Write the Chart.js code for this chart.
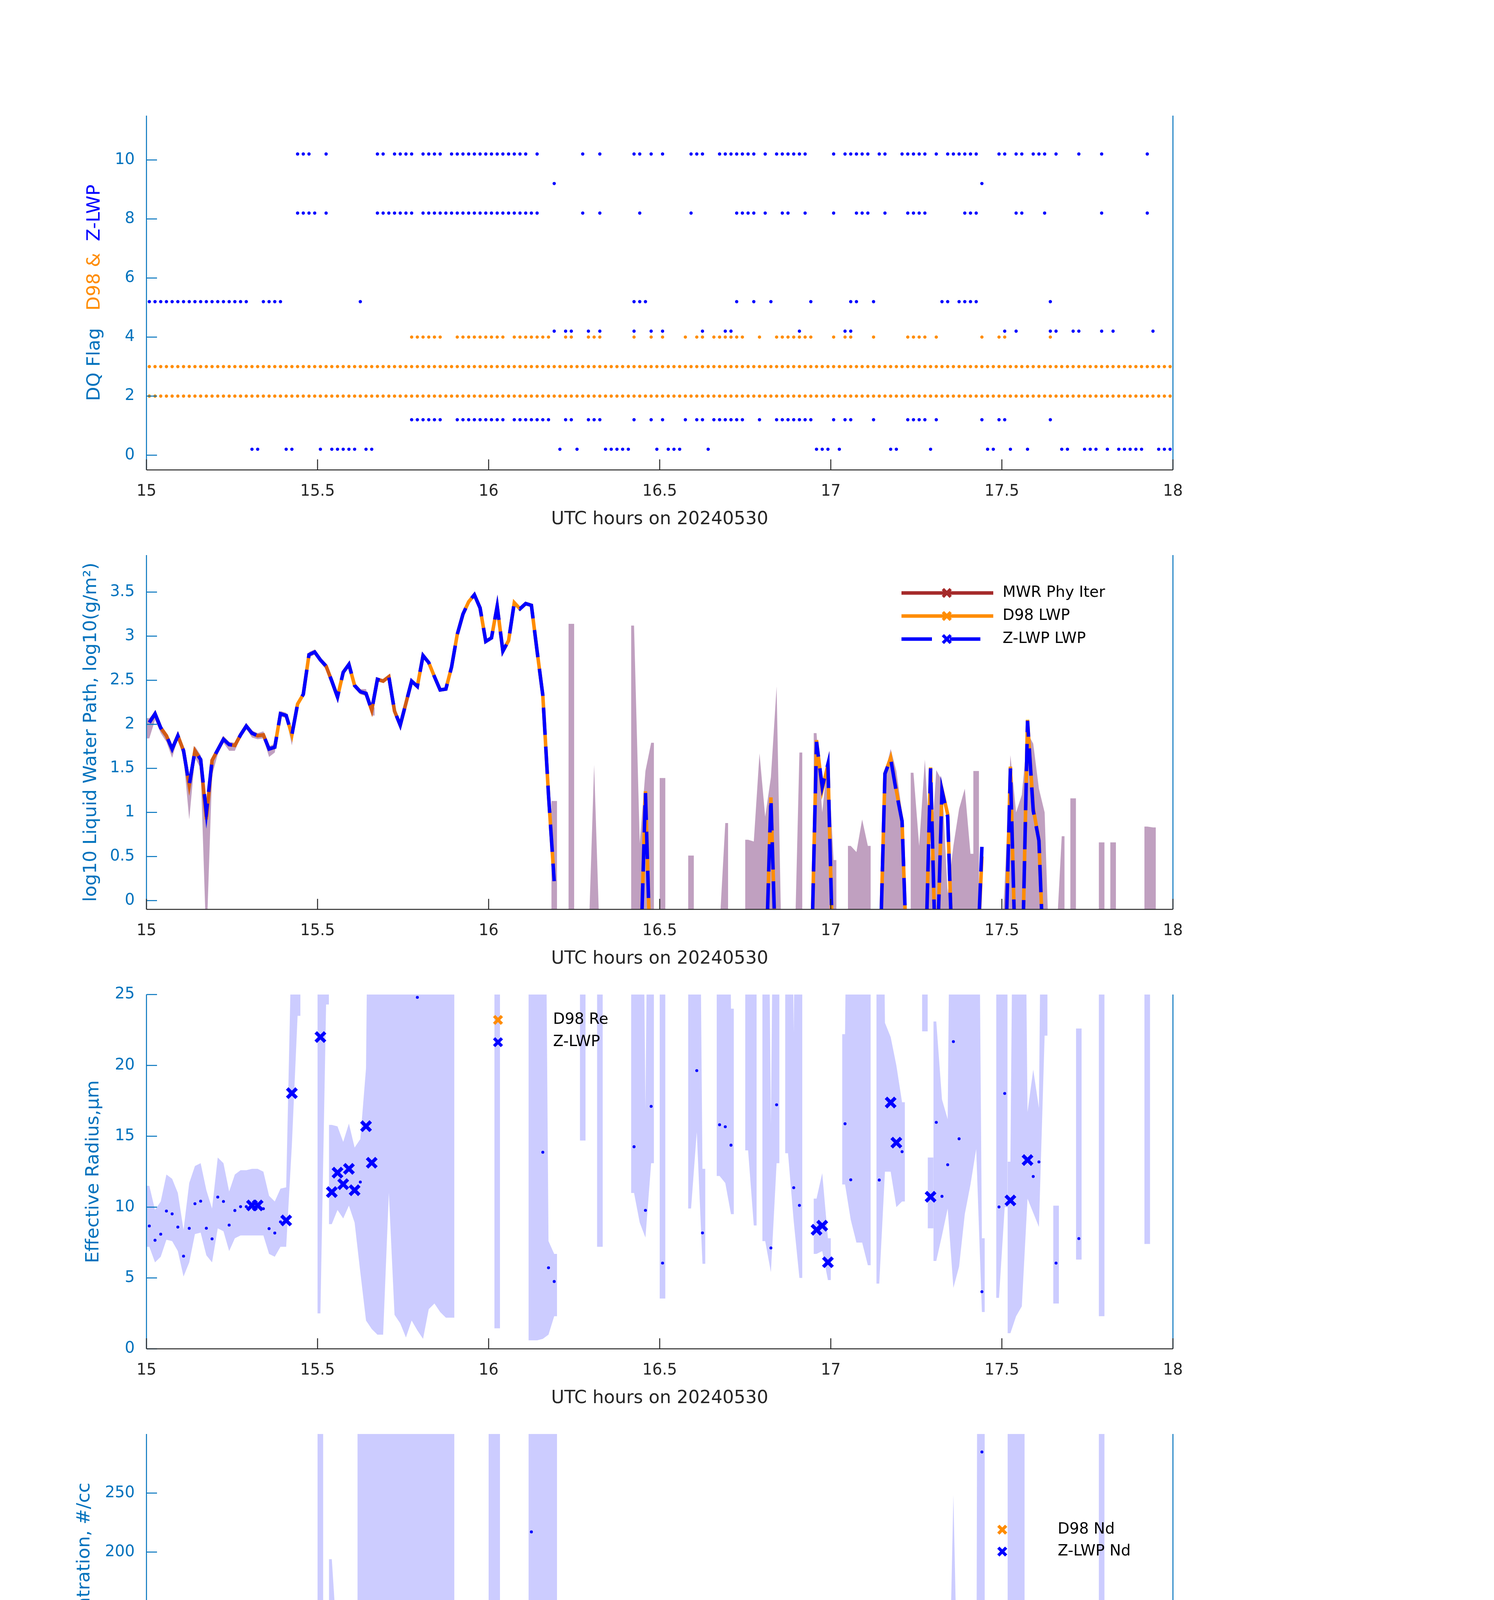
<!DOCTYPE html>
<html>
<head>
<meta charset="utf-8">
<script src="https://cdn.jsdelivr.net/npm/chart.js@4.4.1/dist/chart.umd.min.js"></script>
<style>
  body { margin: 0; background: #fff; }
  #page { position: relative; width: 3825px; height: 6000px; background: #fff; }
  #page canvas { position: absolute; left: 0; }
</style>
</head>
<body>
<div id="page">
  <canvas id="flagChart" width="3825" height="1200" style="top:196px"></canvas>
  <canvas id="lwpChart" width="3825" height="1200" style="top:1321px"></canvas>
  <canvas id="reChart" width="3825" height="1200" style="top:2446px"></canvas>
  <canvas id="ndChart" width="3825" height="1200" style="top:3571px"></canvas>
  <canvas id="odChart" width="3825" height="1200" style="top:4696px"></canvas>
</div>
<script>
const n = null;

// one sample per minute from 15:00 UTC, plotted in the middle of its minute
const startHour = 15;
const minuteCount = 180;
const minuteIdx = Array.from({length: minuteCount}, (_, m) => m);
const hourOf = m => startHour + (m + 0.5) / 60;

const xTickValues = [15, 15.5, 16, 16.5, 17, 17.5, 18];
const xTickLabels = ['15', '15.5', '16', '16.5', '17', '17.5', '18'];

// ---- panel 1: data quality flags (minute numbers where a flag is set)
const zlwpFlag10Minutes = [26, 27, 28, 31, 40, 41, 43, 44, 45, 46, 48, 49, 50, 51, 53, 54, 55, 56, 57, 58, 59, 60, 61, 62, 63, 64, 65, 66, 68, 76, 79, 85, 86, 88, 90, 95, 96, 97, 100, 101, 102, 103, 104, 105, 106, 108, 110, 111, 112, 113, 114, 115, 120, 122, 123, 124, 125, 126, 128, 129, 132, 133, 134, 135, 136, 138, 140, 141, 142, 143, 144, 145, 149, 150, 152, 153, 155, 156, 157, 159, 163, 167, 175];
const zlwpFlag9Minutes = [71, 146];
const zlwpFlag8Minutes = [26, 27, 28, 29, 31, 40, 41, 42, 43, 44, 45, 46, 48, 49, 50, 51, 52, 53, 54, 55, 56, 57, 58, 59, 60, 61, 62, 63, 64, 65, 66, 67, 68, 76, 79, 86, 95, 103, 104, 105, 106, 108, 111, 112, 115, 120, 124, 125, 126, 129, 133, 134, 135, 136, 143, 144, 145, 152, 153, 157, 167, 175];
const zlwpFlag5Minutes = [0, 1, 2, 3, 4, 5, 6, 7, 8, 9, 10, 11, 12, 13, 14, 15, 16, 17, 20, 21, 22, 23, 37, 85, 86, 87, 103, 106, 109, 116, 123, 124, 127, 139, 140, 142, 143, 144, 145, 158];
const zlwpFlag4Minutes = [71, 73, 74, 77, 79, 85, 88, 90, 97, 101, 102, 114, 122, 123, 150, 152, 158, 159, 162, 163, 167, 169, 176];
const zlwpFlag1Minutes = [46, 47, 48, 49, 50, 51, 54, 55, 56, 57, 58, 59, 60, 61, 62, 64, 65, 66, 67, 68, 69, 70, 73, 74, 77, 78, 79, 85, 88, 90, 94, 96, 97, 99, 100, 101, 102, 103, 104, 107, 110, 111, 112, 113, 114, 115, 116, 120, 122, 123, 127, 133, 134, 135, 136, 138, 146, 149, 150, 158];
const zlwpFlag0Minutes = [18, 19, 24, 25, 30, 32, 33, 34, 35, 36, 38, 39, 72, 75, 80, 81, 82, 83, 84, 89, 91, 92, 93, 98, 117, 118, 119, 121, 130, 131, 137, 147, 148, 151, 154, 160, 161, 164, 165, 166, 168, 170, 171, 172, 173, 174, 177, 178, 179];
const d98Flag4Minutes = [46, 47, 48, 49, 50, 51, 54, 55, 56, 57, 58, 59, 60, 61, 62, 64, 65, 66, 67, 68, 69, 70, 73, 74, 77, 78, 79, 85, 88, 90, 94, 96, 97, 99, 100, 101, 102, 103, 104, 107, 110, 111, 112, 113, 114, 115, 116, 120, 122, 123, 127, 133, 134, 135, 136, 138, 146, 149, 150, 158];
const d98Flag3Minutes = minuteIdx;
const d98Flag2Minutes = minuteIdx;
const zlwpFlagOffset = 0.2;

// ---- panel 2: log10 LWP, one value per minute
const zlwpLwp = [
  2.02, 2.12, 1.96, 1.87, 1.72, 1.87, 1.70, 1.31, 1.70, 1.60,
  1.00, 1.59, 1.71, 1.83, 1.77, 1.76, 1.88, 1.98, 1.90, 1.87,
  1.88, 1.72, 1.74, 2.12, 2.10, 1.88, 2.23, 2.34, 2.79, 2.82,
  2.73, 2.66, 2.49, 2.31, 2.59, 2.68, 2.44, 2.37, 2.35, 2.16,
  2.51, 2.49, 2.54, 2.15, 1.99, 2.24, 2.49, 2.43, 2.78, 2.70,
  2.54, 2.39, 2.40, 2.65, 3.02, 3.25, 3.39, 3.47, 3.32, 2.94,
  2.98, 3.34, 2.83, 2.95, 3.38, 3.31, 3.37, 3.35, 2.83, 2.33,
  1.20, 0.22, n, n, n, n, n, n, n, n,
  n, n, n, n, n, n, -1, 1.22, -1, n,
  n, n, n, n, n, n, n, n, n, n,
  n, n, n, n, n, n, n, n, -1, 1.16,
  -1, n, n, n, n, n, -1, 1.80, 1.29, 1.55,
  -1, n, n, n, n, n, n, n, -1, 1.44,
  1.61, 1.23, 0.90, -1, n, n, -1, 1.50, -1, 1.25,
  0.95, -1, n, n, n, -1, 0.61, n, n, n,
  -1, 1.50, -1, -1, 2.04, 1.02, 0.68, -1, n, n,
  n, n, n, n, n, n, n, n, n, n,
  n, n, n, n, n, n, n, n, n, n
];
const d98Lwp = [
  2.02, 2.12, 1.96, 1.87, 1.72, 1.87, 1.70, 1.31, 1.70, 1.60,
  0.92, 1.59, 1.71, 1.83, 1.77, 1.76, 1.88, 1.98, 1.90, 1.87,
  1.88, 1.72, 1.74, 2.12, 2.10, 1.88, 2.23, 2.34, 2.79, 2.82,
  2.73, 2.66, 2.49, 2.31, 2.59, 2.68, 2.44, 2.37, 2.35, 2.16,
  2.51, 2.49, 2.54, 2.15, 1.99, 2.24, 2.49, 2.43, 2.78, 2.70,
  2.54, 2.39, 2.40, 2.65, 3.02, 3.25, 3.39, 3.47, 3.32, 2.94,
  2.98, 3.34, 2.83, 2.95, 3.38, 3.31, 3.37, 3.35, 2.83, 2.33,
  1.20, 0.22, n, n, n, n, n, n, n, n,
  n, n, n, n, n, n, -1, 1.24, -1, n,
  n, n, n, n, n, n, n, n, n, n,
  n, n, n, n, n, n, n, n, -1, 1.17,
  -1, n, n, n, n, n, -1, 1.82, 1.26, 1.54,
  -1, n, n, n, n, n, n, n, -1, 1.44,
  1.62, 1.25, 0.90, -1, n, n, -1, 1.51, -1, 1.26,
  0.98, -1, n, n, n, -1, 0.50, n, n, n,
  -1, 1.52, -1, -1, 2.05, 1.05, 0.68, -1, n, n,
  n, n, n, n, n, n, n, n, n, n,
  n, n, n, n, n, n, n, n, n, n
];
const mwrLwp = [
  2.02, 2.12, 1.96, 1.87, 1.72, 1.87, 1.70, 1.31, 1.70, 1.60,
  0.95, 1.59, 1.71, 1.83, 1.77, 1.76, 1.88, 1.98, 1.90, 1.87,
  1.88, 1.72, 1.74, n, n, n, n, n, n, n,
  2.73, 2.66, 2.49, 2.31, n, n, 2.44, 2.37, 2.35, 2.16,
  2.51, 2.49, 2.54, 2.15, 1.99, 2.24, 2.49, 2.43, n, n,
  n, n, n, n, n, n, n, n, n, n,
  n, n, n, n, n, n, n, n, n, n,
  n, n, n, n, n, n, n, n, n, n,
  n, n, n, n, n, n, n, n, n, n,
  n, n, n, n, n, n, n, n, n, n,
  n, n, n, n, n, n, n, n, n, n,
  n, n, n, n, n, n, n, n, n, n,
  n, n, n, n, n, n, n, n, n, n,
  n, n, n, n, n, n, n, n, n, n,
  n, n, n, n, n, n, n, n, n, n,
  n, n, n, n, n, n, n, n, n, n,
  n, n, n, n, n, n, n, n, n, n,
  n, n, n, n, n, n, n, n, n, n
];
const mwrHigh = [
  2.07, 2.14, 2.00, 1.90, 1.75, 1.90, 1.75, 1.34, 1.75, 1.65,
  1.03, 1.62, 1.75, 1.87, 1.80, 1.79, 1.91, 2.01, 1.93, 1.90,
  1.92, 1.75, 1.78, 2.15, 2.13, 1.91, 2.26, 2.37, 2.82, 2.85,
  2.76, 2.69, 2.52, 2.34, 2.62, 2.71, 2.47, 2.40, 2.40, 2.19,
  n, n, n, n, n, n, n, n, n, n,
  n, n, n, n, n, n, n, n, n, n,
  n, n, n, n, n, n, n, n, n, n,
  n, 1.13, n, n, 3.14, n, n, -0.5, 1.54, -0.5,
  n, n, n, n, n, 3.12, 0.65, 1.47, 1.79, n,
  1.39, n, n, n, n, 0.51, n, n, n, n,
  -0.3, 0.88, n, n, n, 0.69, 0.67, 1.67, 0.95, 1.40,
  2.43, -1, n, -1, 1.68, n, n, 1.90, 1.00, 1.63,
  0.46, n, n, 0.62, 0.55, 0.92, 0.62, n, -1, 1.45,
  1.72, 1.47, 1.00, -3, 1.45, 0.62, 1.60, 0.48, 1.48, 1.36,
  0.08, 0.62, 1.04, 1.27, 0.53, 1.47, n, n, n, -1,
  0.20, 1.65, 1.00, 1.20, 1.90, 1.78, 1.27, 1.00, -1, -0.5,
  0.73, n, 1.16, n, n, n, n, 0.66, n, 0.66,
  n, n, n, n, n, 0.84, 0.83, n, n, n
];
const mwrLow = [
  1.84, 2.05, 1.90, 1.80, 1.62, 1.84, 1.62, 0.92, 1.62, 1.50,
  -0.5, 1.42, 1.66, 1.79, 1.70, 1.70, 1.85, 1.95, 1.85, 1.83,
  1.84, 1.63, 1.68, 2.09, 2.07, 1.76, 2.20, 2.31, 2.76, 2.79,
  2.70, 2.62, 2.45, 2.26, 2.56, 2.65, 2.41, 2.34, 2.32, 2.10,
  n, n, n, n, n, n, n, n, n, n,
  n, n, n, n, n, n, n, n, n, n,
  n, n, n, n, n, n, n, n, n, n,
  n, -4, n, n, -4, n, n, -4, -4, -4,
  n, n, n, n, n, -4, -4, -4, -4, n,
  -4, n, n, n, n, -4, n, n, n, n,
  -4, -4, n, n, n, -4, -4, -4, -4, -4,
  -4, -4, n, -4, -4, n, n, -4, -4, -4,
  -4, n, n, -4, -4, -4, -4, n, -4, -4,
  -4, -4, -4, -4, -4, -4, -4, -4, -4, -4,
  -4, -4, -4, -4, -4, -4, n, n, n, -4,
  -4, -4, -4, -4, -4, -4, -4, -4, -4, -4,
  -4, n, -4, n, n, n, n, -4, n, -4,
  n, n, n, n, n, -4, -4, n, n, n
];
const mwrBreaks = [134, 145, 159];

// ---- panels 3-5: retrievals; minutes drawn as a bold cross
const xMarkMinutes = [18, 19, 24, 25, 30, 32, 33, 34, 35, 36, 38, 39, 117, 118, 119, 130, 131, 137, 151, 154];

const zlwpRe = [
  8.67, 7.66, 8.09, 9.72, 9.52, 8.59, 6.54, 8.50, 10.24, 10.42,
  8.51, 7.76, 10.71, 10.40, 8.73, 9.76, 10.03, 10.03, 10.12, 10.12,
  9.89, 8.48, 8.17, 8.96, 9.06, 18.04, n, n, n, n,
  22.0, n, 11.06, 12.43, 11.62, 12.70, 11.19, 11.77, 15.71, 13.13,
  n, n, n, n, n, n, n, 24.8, n, n,
  n, n, n, n, n, n, n, n, n, n,
  n, n, n, n, n, n, n, n, n, 13.87,
  5.72, 4.75, n, n, n, n, n, n, n, n,
  n, n, n, n, n, 14.26, n, 9.77, 17.11, n,
  6.05, n, n, n, n, n, 19.63, 8.18, n, n,
  15.81, 15.67, 14.37, n, n, n, n, n, n, 7.12,
  17.22, n, n, 11.37, 10.12, n, n, 8.40, 8.69, 6.11,
  n, n, 15.88, 11.93, n, n, n, n, 11.91, n,
  17.38, 14.55, 13.91, n, n, n, n, 10.73, 15.98, 10.76,
  12.99, 21.68, 14.82, n, n, n, 4.03, n, n, 10.01,
  18.02, 10.47, n, n, 13.32, 12.16, 13.19, n, n, 6.05,
  n, n, n, 7.78, n, n, n, n, n, n,
  n, n, n, n, n, n, n, n, n, n
];
const reUpper = [
  11.5, 9.8, 10.4, 12.3, 12.0, 11.0, 8.4, 11.7, 12.9, 13.1,
  11.2, 9.9, 13.5, 13.1, 11.1, 12.3, 12.6, 12.6, 12.7, 12.7,
  12.5, 10.8, 10.4, 11.3, 11.4, 30, 30, n, n, n,
  60, 60, 15.8, 15.7, 14.6, 15.9, 14.2, 14.8, 19.8, 60,
  60, 60, 60, 60, 60, 60, 60, 60, 60, 60,
  60, 60, 60, 60, n, n, n, n, n, n,
  n, 60, n, n, n, n, n, 60, 60, 60,
  7.6, 6.7, n, n, n, n, 60, n, n, 60,
  n, n, n, n, n, 60, 60, 16.9, 60, n,
  60, n, n, n, n, 60, 60, 12.7, n, n,
  60, 60, 24, n, n, 60, 60, n, 60, 15.8,
  60, n, 60, 22.3, 60, n, n, 10.6, 12.4, 7.8,
  n, n, 22.2, 60, 60, 60, 60, n, 60, 23,
  22, 20, 17.4, n, n, n, 60, 13.5, 23.1, 17.6,
  16.2, 60, 60, 60, 60, 60, 7.8, n, n, 60,
  60, 13.2, 60, 60, 16.7, 19.7, 17, 60, n, 10.1,
  n, n, n, 22.6, n, n, n, 60, n, n,
  n, n, n, n, n, 60, n, n, n, n
];
const reLower = [
  7.2, 6.1, 6.5, 7.7, 7.6, 6.9, 5.1, 6.1, 8.1, 8.2,
  6.6, 6.1, 8.5, 8.3, 6.9, 7.8, 8.0, 8.0, 8.0, 8.0,
  8.0, 6.7, 6.5, 7.2, 7.2, 14.4, 23.5, n, n, n,
  2.5, 24.3, 8.8, 9.8, 9.2, 10.1, 8.9, 5.4, 2.0, 1.4,
  1.0, 1.0, 11.0, 2.4, 1.8, 0.8, 2.0, 1.3, 0.7, 2.8,
  3.2, 2.6, 2.2, 2.2, n, n, n, n, n, n,
  n, 1.45, n, n, n, n, n, 0.6, 0.6, 0.7,
  1.0, 2.3, n, n, n, n, 14.7, n, n, 7.2,
  n, n, n, n, n, 11.0, 8.9, 7.85, 13.1, n,
  3.55, n, n, n, n, 9.9, 15.3, 6.0, n, n,
  12.2, 11.7, 9.5, n, n, 14, 8.7, n, 7.6, 5.4,
  13.1, n, 13.8, 9.0, 5.0, n, n, 6.7, 6.9, 4.85,
  n, n, 11.6, 9.1, 7.5, 7.5, 5.9, n, 4.6, 12.5,
  12.5, 10.0, 10.4, n, n, n, 22.4, 8.5, 6.2, 8.0,
  9.9, 4.3, 5.8, 9.5, 11.6, 14.1, 2.6, n, n, 3.6,
  10, 1.1, 2.3, 3.0, 10.6, 9.6, 8.6, 22.1, n, 3.2,
  n, n, n, 6.3, n, n, n, 2.3, n, n,
  n, n, n, n, n, 7.4, n, n, n, n
];
const reBreaks = [32, 137, 138, 151];

const zlwpNd = [
  32.0, 70.1, 39.0, 26.3, 22.7, 42.8, 62.3, 10.1, 60.7, 9.1,
  5.7, 30.1, 17.5, 25.1, 35.0, 43.2, 38.1, 72.9, 63.6, 45.9,
  41.3, 35.8, 41.3, 68.4, 57.9, 6.7, 2.1, 1.0, 1.3, 9.7,
  87.0, 5.3, 82.8, 26.3, 59.6, 55.4, 50.5, 46.3, 20.0, 146.2,
  4.2, 1.7, 43.6, 1.0, 0.4, 0.2, 1.0, 77.5, 0.2, 0.2,
  0.2, 0.2, 9.3, 0.2, 1.5, 1.3, 3.2, 0.2, 0.2, 0.2,
  0.2, 0.2, 1.3, 0.2, 0.2, 0.2, 2.1, 217.1, 0.4, 19.6,
  71.8, 18.3, n, n, n, n, 0, n, n, 0,
  n, n, n, n, n, 0, 0, 10.5, 0, n,
  1.7, n, n, n, n, 0, 0, 0.8, n, n,
  0, 0, 0, 0, 0, 0, 0, n, 0, 24.9,
  0, 0, 0, 0.4, 0.8, 0, n, 66.8, 16.4, 59.6,
  0, n, 0, 0, 0, 0, 0, n, 4.8, 1.5,
  11.0, 11.0, 4.2, 0, 0, 0, 0, 17.9, 0, 5.9,
  3.8, 0, 0.8, 0, 0, 0, 284.8, n, n, 0.4,
  0, 15.2, 0, 0, 17.9, 4.8, 0.8, 0, n, 2.9,
  n, n, n, 0, n, n, n, 0, n, n,
  n, n, n, n, n, 0, n, n, n, n
];
const ndUpper = [
  67, 146, 82, 57, 47, 93, 147, 17, 121, 19,
  24, 64, 38, 46, 70.6, 88, 82, 155, 127, 95,
  85, 78, 89.5, 144, 118, 13.7, 1.5, 0.5, 0.5, 19.4,
  2000, 9.5, 194, 119, 119, 113, 101.5, 2000, 2000, 2000,
  2000, 2000, 2000, 2000, 2000, 2000, 2000, 2000, 2000, 2000,
  2000, 2000, 2000, 2000, 1.5, 1.5, 5.5, 0.5, 0.5, n,
  2000, 2000, n, n, n, n, n, 2000, 2000, 2000,
  2000, 2000, n, n, n, n, n, n, n, 4,
  n, n, n, n, n, 1, 0.5, 30.5, 1, n,
  15.4, n, n, n, n, 3, 1, 4, n, n,
  n, n, n, n, n, 3, 3, n, 16.8, 90.6,
  1, n, n, 0.5, 6.3, 0.5, n, 134, 25, 123,
  n, n, n, 0.5, 5, 15, 23, n, 104, 1,
  29, 59, 24, 1, n, n, n, 37, 17.5, 18,
  18, 248.5, 19, 19, 10.5, 1, 2000, n, n, 31.6,
  0.5, 2000, 2000, 2000, 35.8, 14.7, 10.5, 1, n, 152,
  n, n, n, n, n, n, n, 2000, n, n,
  n, n, n, n, n, 16.4, n, n, n, n
];
const ndLower = [
  16, 34, 19, 12.6, 11.6, 20, 27, 2, 30.5, 4.2,
  2, 15, 10.5, 15, 18, 21, 19, 36, 31.6, 23,
  20.6, 17, 19, 33, 29.5, 2, 0, 0, 0, 6.3,
  1, 0.5, 19, 16, 29.5, 28.4, 25.3, 23, 10.5, 4.2,
  2, 1, 0.5, 0.5, 0.5, 0.5, 0.5, 0.5, 0.5, 0.5,
  0.5, 0.5, 0.5, 0.5, 0, 0, 0, 0, 0, n,
  0, 0, n, n, n, n, n, 0, 0.5, 9.5,
  11, 6.3, n, n, n, n, n, n, n, 0,
  n, n, n, n, n, 0, 0, 0, 0, n,
  0, n, n, n, n, 0, 0, 0, n, n,
  n, n, n, n, n, 0, 0, n, 0, 0,
  0, n, n, 0, 0, 0, n, 33.7, 2, 29.5,
  n, n, n, 0, 0, 0, 0, n, 4, 0,
  5, 5, 2, 0, n, n, n, 0.5, 0.5, 0.5,
  0.5, 0.5, 0.5, 0.5, 0.5, 0.5, 6, n, n, 0,
  0, 4.6, 0, 0, 0, 0, 0, 0, n, 0.5,
  n, n, n, n, n, n, n, 0, n, n,
  n, n, n, n, n, 0, n, n, n, n
];
const ndBreaks = [30, 31, 32, 37, 54, 130, 137, 138, 151, 154, 155];

const zlwpOd = [
  18.0, 26.2, 16.2, 11.8, 8.7, 13.8, 13.0, 3.7, 8.2, 6.2,
  1.6, 7.4, 7.6, 10.4, 10.6, 9.1, 12.4, 15.1, 12.3, 11.6,
  12.0, 9.7, 10.6, 23.1, 21.5, 6.5, 8.5, 7.6, 17.5, 28.2,
  38.2, 22.7, 42.9, 25.2, 51.2, 56.5, 37.2, 31.3, 23.1, 17.3,
  17.0, 11.8, 20.3, 6.2, 3.9, 3.2, 11.6, 17.1, 9.1, 10.3,
  7.5, 6.5, 12.2, 8.1, 18.7, 27.3, 47.6, 32.5, 28.4, 12.1,
  14.9, 31.5, 18.7, 13.2, 23.4, 25.6, 44.0, n, 18.2, 24.7,
  6.8, 0.6, n, n, n, n, 0, n, n, 0,
  n, n, n, n, n, 0, 0, 2.7, 0, n,
  0, n, n, n, n, 0, 0, 0, n, n,
  0, 0, 0, 0, 0, 0, 0, n, 0, 3.2,
  0, 0, 0, 0, 0, 0, n, 11.8, 3.2, 8.5,
  0, n, 0, 0, 0, 0, 0, n, 0.5, 1.6,
  3.9, 2.0, 0.9, 0, 0, 0, 0, 4.6, 0, 2.7,
  1.4, 0, 0, 0, 0, 0, 1.6, n, n, 0,
  0, 4.8, 0, 0, 12.4, 2.0, 0.7, 0, n, 0.2,
  n, n, n, 0, n, n, n, 0, n, n,
  n, n, n, n, n, 0, n, n, n, n
];
const odUpper = [
  23, 33, 20, 15, 12, 17.5, 16.5, 6.8, 10.5, 7.5,
  4.5, 10, 10.5, 13, 13.2, 11, 15.5, 19, 15, 14.5,
  15, 12, 13.5, 28.5, 27, 11, 10.8, 9.5, 20, 35,
  500, 28.7, 54, 34, 64, 71, 47, 65.4, 500, 27,
  500, 500, 49, 87, 88.5, 500, 500, 500, 500, 500,
  500, 500, 22, 500, 79, 33, 59.7, 40.7, 35.7, 15.3,
  18.9, 500, 24.6, 17.5, 29.4, 32.2, 500, 500, 500, 33.6,
  37.5, 9.4, n, n, n, n, n, n, n, n,
  n, n, n, n, n, 0.1, 0.5, 5.1, 0.5, n,
  n, n, n, n, n, 0.6, 0.3, 0.5, n, n,
  n, n, n, n, n, 0.9, 0.9, n, 1.8, 7.0,
  0.2, n, n, n, n, n, n, 14.8, 6, 12,
  n, n, n, 0.3, 1, 1.8, 1.4, n, 3.7, 3.5,
  5.3, 4, 2.3, 0.1, n, n, n, 6.9, 0.5, 5.5,
  4.1, 1.3, 2.8, 2.7, 2.8, 0.2, 3.7, n, n, n,
  n, 50, 6.9, 12.2, 15.5, 4.2, 3.5, 0.1, n, 1.3,
  n, n, n, n, n, n, n, 3.2, n, n,
  n, n, n, n, n, 1.5, n, n, n, n
];
const odLower = [
  11.5, 18, 13, 9.5, 6.8, 11, 10.3, 1.5, 6, 4.5,
  1, 5, 6, 8.5, 8.6, 7.5, 10.5, 12, 9.7, 9.5,
  9.5, 7.5, 8.5, 17.5, 17.5, 4.5, 6.5, 6, 12, 12,
  15.2, 14.6, 29.8, 21, 41, 45, 31, 24.8, 18.5, 9.5,
  13.6, 9.7, 13.2, 5.1, 3, 2.7, 5.5, 7.2, 8.3, 8.7,
  5.8, 5.5, 6.5, 6.5, 10.4, 19.6, 27.7, 25.9, 22.4, 9.7,
  11.8, 25.2, 15.3, 11.1, 18.9, 20.3, 27, 27, 14.6, 20.3,
  2.7, 0.6, n, n, n, n, n, n, n, n,
  n, n, n, n, n, 0, 0, 0, 0, n,
  n, n, n, n, n, 0, 0, 0, n, n,
  n, n, n, n, n, 0, 0, n, 0, 0,
  0, n, n, n, n, n, n, 9.4, 0.9, 5.5,
  n, n, n, 0, 0, 0, 0, n, 0.2, 0.5,
  2, 0.5, 0, 0, n, n, n, 2.5, 0, 0,
  0, 0, 0, 0, 0, 0, 0, n, n, n,
  n, 2.3, 0, 0, 9.7, 0, 0, 0, n, 0,
  n, n, n, n, n, n, n, 0, n, n,
  n, n, n, n, n, 0, n, n, n, n
];
const odBreaks = [30, 31, 32, 37, 38, 130, 137, 138, 152, 154, 155];

// ---- styling
const axisBlue = 'rgb(0,114,189)';
const axisDark = 'rgb(38,38,38)';
const zBlue = 'rgb(0,0,255)';
const dOrange = 'rgb(255,140,0)';
const mwrBrown = 'rgb(165,42,42)';
const bandLilac = 'rgb(204,204,255)';
const bandMauve = 'rgb(192,160,192)';
const textFont = "'DejaVu Sans', sans-serif";
const tickLen = 27;

// helpers turning the minute arrays into chart points
const seriesPoints = vals => minuteIdx.map(m => ({x: hourOf(m), y: vals[m]}));
const pickPoints = (vals, keep) => minuteIdx.filter(m => vals[m] !== null && keep(m)).map(m => ({x: hourOf(m), y: vals[m]}));
const flagPoints = (minutes, level) => minutes.map(m => ({x: hourOf(m), y: level}));

// band outline: every run of minutes covers its whole minutes (half a minute either side)
function bandPoints(upper, lower, breaks) {
  const up = [], lo = [];
  const half = 0.5 / 60;
  for (let m = 0; m < minuteCount; m++) {
    if (upper[m] === null) continue;
    const x = hourOf(m);
    const starts = m === 0 || upper[m - 1] === null || breaks.includes(m);
    const ends = m === minuteCount - 1 || upper[m + 1] === null || breaks.includes(m + 1);
    if (starts) { up.push({x: x - half, y: upper[m]}); lo.push({x: x - half, y: lower[m]}); }
    up.push({x, y: upper[m]}); lo.push({x, y: lower[m]});
    if (ends) {
      up.push({x: x + half, y: upper[m]}); lo.push({x: x + half, y: lower[m]});
      up.push({x: x + half, y: null}); lo.push({x: x + half, y: null});
    }
  }
  return [up, lo];
}

function bandSets(upper, lower, breaks, color) {
  const [up, lo] = bandPoints(upper, lower, breaks);
  return [
    {type: 'line', label: 'band hi', data: up, fill: '+1', backgroundColor: color, borderWidth: 0, pointRadius: 0, order: 10},
    {type: 'line', label: 'band lo', data: lo, fill: false, borderWidth: 0, pointRadius: 0, order: 10}
  ];
}

function markerSets(vals) {
  return [
    {label: 'Z-LWP cross', data: pickPoints(vals, m => xMarkMinutes.includes(m)), pointStyle: 'crossRot',
     pointRadius: 17, pointBorderWidth: 9, pointBorderColor: zBlue, pointBackgroundColor: zBlue, clip: false, order: 1},
    {label: 'Z-LWP', data: pickPoints(vals, m => !xMarkMinutes.includes(m)), pointStyle: 'circle',
     pointRadius: 3.8, pointBorderWidth: 0, pointBackgroundColor: zBlue, clip: false, order: 2}
  ];
}

function drawCross(ctx, x, y, r, color, lw) {
  ctx.strokeStyle = color;
  ctx.lineWidth = lw;
  ctx.beginPath();
  ctx.moveTo(x - r, y - r); ctx.lineTo(x + r, y + r);
  ctx.moveTo(x - r, y + r); ctx.lineTo(x + r, y - r);
  ctx.stroke();
}

// MATLAB-like box: blue y axis lines, dark x axis, ticks pointing inwards
const axisFrame = {
  id: 'axisFrame',
  afterDatasetsDraw(chart) {
    const {ctx, chartArea: a, scales: {x, y}} = chart;
    ctx.save();
    ctx.lineWidth = 2.5;
    ctx.strokeStyle = axisBlue;
    ctx.beginPath();
    ctx.moveTo(a.left, a.top); ctx.lineTo(a.left, a.bottom);
    ctx.moveTo(a.right, a.top); ctx.lineTo(a.right, a.bottom);
    y.ticks.forEach(t => {
      const py = y.getPixelForValue(t.value);
      ctx.moveTo(a.left, py); ctx.lineTo(a.left + tickLen, py);
    });
    ctx.stroke();
    ctx.strokeStyle = axisDark;
    ctx.beginPath();
    ctx.moveTo(a.left, a.bottom); ctx.lineTo(a.right, a.bottom);
    x.ticks.forEach(t => {
      const px = x.getPixelForValue(t.value);
      ctx.moveTo(px, a.bottom); ctx.lineTo(px, a.bottom - tickLen);
    });
    ctx.stroke();
    ctx.restore();
  }
};

function markLegend(items, cfg) {
  return {
    id: 'markLegend',
    afterDraw(chart) {
      const ctx = chart.ctx;
      ctx.save();
      items.forEach((it, k) => {
        const y = cfg.rows[k];
        if (it.line) {
          ctx.strokeStyle = it.color;
          ctx.lineWidth = 9;
          ctx.setLineDash(it.dash || []);
          ctx.beginPath(); ctx.moveTo(cfg.lineFrom, y); ctx.lineTo(cfg.lineTo, y); ctx.stroke();
          ctx.setLineDash([]);
        }
        drawCross(ctx, cfg.markX, y, 10, it.color, 8);
        ctx.fillStyle = '#000';
        ctx.font = '39px ' + textFont;
        ctx.textAlign = 'left';
        ctx.textBaseline = 'middle';
        ctx.fillText(it.label, cfg.textX, y);
      });
      ctx.restore();
    }
  };
}

function colouredTitle(pieces, centerX) {
  return {
    id: 'colouredTitle',
    afterDraw(chart) {
      const {ctx, chartArea: a} = chart;
      ctx.save();
      ctx.font = '47px ' + textFont;
      const total = pieces.reduce((s, p) => s + ctx.measureText(p.text).width, 0);
      ctx.translate(centerX, (a.top + a.bottom) / 2);
      ctx.rotate(-Math.PI / 2);
      ctx.textAlign = 'left';
      ctx.textBaseline = 'middle';
      let pos = -total / 2;
      pieces.forEach(p => {
        ctx.fillStyle = p.color;
        ctx.fillText(p.text, pos, 0);
        pos += ctx.measureText(p.text).width;
      });
      ctx.restore();
    }
  };
}

function panelOptions(p) {
  return {
    responsive: false,
    animation: false,
    devicePixelRatio: 1,
    layout: {padding: {top: 100, right: 822, bottom: 0, left: 0}},
    plugins: {legend: {display: false}, tooltip: {enabled: false}},
    scales: {
      x: {
        type: 'linear', min: 15, max: 18,
        grid: {display: false, drawTicks: false},
        border: {display: false},
        afterFit: s => { s.height = 193; },
        afterBuildTicks: s => { s.ticks = xTickValues.map(v => ({value: v})); },
        ticks: {
          autoSkip: false, maxRotation: 0, padding: 32, color: axisDark,
          font: {family: textFont, size: 40},
          callback: v => xTickLabels[xTickValues.indexOf(v)]
        },
        title: {
          display: true, text: 'UTC hours on 20240530', color: axisDark,
          font: {family: textFont, size: 46}, padding: {top: 0, bottom: 38}
        }
      },
      y: {
        type: 'linear', min: p.yMin, max: p.yMax,
        grid: {display: false, drawTicks: false},
        border: {display: false},
        afterFit: s => { s.width = 375; },
        afterBuildTicks: s => { s.ticks = p.yTicks.map(v => ({value: v})); },
        ticks: {
          autoSkip: false, padding: 30, color: axisBlue,
          font: {family: textFont, size: 40},
          callback: v => p.yTickLabels[p.yTicks.indexOf(v)]
        },
        title: {
          display: !!p.yTitle, text: p.yTitle || '', color: axisBlue,
          font: {family: textFont, size: 47}, padding: {top: (p.yTitleX || 240) - 28.2, bottom: 0}
        }
      }
    }
  };
}

// ---- panel 1
const flagDot = (label, minutes, level, color) => ({
  label, data: flagPoints(minutes, level), pointStyle: 'circle', pointRadius: 4.2,
  pointBorderWidth: 0, pointBackgroundColor: color, clip: false
});
new Chart(document.getElementById('flagChart'), {
  type: 'scatter',
  data: {datasets: [
    flagDot('Z-LWP 10', zlwpFlag10Minutes, 10 + zlwpFlagOffset, zBlue),
    flagDot('Z-LWP 9', zlwpFlag9Minutes, 9 + zlwpFlagOffset, zBlue),
    flagDot('Z-LWP 8', zlwpFlag8Minutes, 8 + zlwpFlagOffset, zBlue),
    flagDot('Z-LWP 5', zlwpFlag5Minutes, 5 + zlwpFlagOffset, zBlue),
    flagDot('Z-LWP 4', zlwpFlag4Minutes, 4 + zlwpFlagOffset, zBlue),
    flagDot('Z-LWP 1', zlwpFlag1Minutes, 1 + zlwpFlagOffset, zBlue),
    flagDot('Z-LWP 0', zlwpFlag0Minutes, 0 + zlwpFlagOffset, zBlue),
    flagDot('D98 4', d98Flag4Minutes, 4, dOrange),
    flagDot('D98 3', d98Flag3Minutes, 3, dOrange),
    flagDot('D98 2', d98Flag2Minutes, 2, dOrange)
  ]},
  options: panelOptions({yMin: -0.5, yMax: 11.5, yTicks: [0, 2, 4, 6, 8, 10], yTickLabels: ['0', '2', '4', '6', '8', '10']}),
  plugins: [axisFrame, colouredTitle([
    {text: 'DQ Flag', color: axisBlue},
    {text: '   D98 &', color: dOrange},
    {text: '  Z-LWP', color: zBlue}
  ], 243)]
});

// ---- panel 2
new Chart(document.getElementById('lwpChart'), {
  type: 'scatter',
  data: {datasets: [
    {type: 'line', label: 'Z-LWP LWP', data: seriesPoints(zlwpLwp), borderColor: zBlue, borderWidth: 9,
     borderDash: [70, 30], pointRadius: 0, fill: false, order: 1},
    {type: 'line', label: 'MWR Phy Iter', data: seriesPoints(mwrLwp), borderColor: 'rgba(165,42,42,0.5)', borderWidth: 9,
     pointRadius: 0, fill: false, order: 2},
    {type: 'line', label: 'D98 LWP', data: seriesPoints(d98Lwp), borderColor: dOrange, borderWidth: 9,
     pointRadius: 0, fill: false, order: 3},
    ...bandSets(mwrHigh, mwrLow, mwrBreaks, bandMauve)
  ]},
  options: panelOptions({
    yMin: -0.1, yMax: 3.92,
    yTicks: [0, 0.5, 1, 1.5, 2, 2.5, 3, 3.5],
    yTickLabels: ['0', '0.5', '1', '1.5', '2', '2.5', '3', '3.5'],
    yTitle: 'log10 Liquid Water Path, log10(g/m\u00B2)', yTitleX: 234
  }),
  plugins: [axisFrame, markLegend([
    {label: 'MWR Phy Iter', color: mwrBrown, line: true},
    {label: 'D98 LWP', color: dOrange, line: true},
    {label: 'Z-LWP LWP', color: zBlue, line: true, dash: [78, 46]}
  ], {rows: [197, 256, 315], lineFrom: 2308, lineTo: 2543, markX: 2424, textX: 2567})]
});

// ---- panel 3
new Chart(document.getElementById('reChart'), {
  type: 'scatter',
  data: {datasets: [...markerSets(zlwpRe), ...bandSets(reUpper, reLower, reBreaks, bandLilac)]},
  options: panelOptions({
    yMin: 0, yMax: 25, yTicks: [0, 5, 10, 15, 20, 25], yTickLabels: ['0', '5', '10', '15', '20', '25'],
    yTitle: 'Effective Radius,\u03BCm', yTitleX: 240
  }),
  plugins: [axisFrame, markLegend([
    {label: 'D98 Re', color: dOrange},
    {label: 'Z-LWP', color: zBlue}
  ], {rows: [165, 222], markX: 1275, textX: 1416})]
});

// ---- panel 4
new Chart(document.getElementById('ndChart'), {
  type: 'scatter',
  data: {datasets: [...markerSets(zlwpNd), ...bandSets(ndUpper, ndLower, ndBreaks, bandLilac)]},
  options: panelOptions({
    yMin: 0, yMax: 300, yTicks: [0, 50, 100, 150, 200, 250], yTickLabels: ['0', '50', '100', '150', '200', '250'],
    yTitle: 'Droplet Concentration, #/cc', yTitleX: 217
  }),
  plugins: [axisFrame, markLegend([
    {label: 'D98 Nd', color: dOrange},
    {label: 'Z-LWP Nd', color: zBlue}
  ], {rows: [345, 401], markX: 2566, textX: 2708})]
});

// ---- panel 5
new Chart(document.getElementById('odChart'), {
  type: 'scatter',
  data: {datasets: [...markerSets(zlwpOd), ...bandSets(odUpper, odLower, odBreaks, bandLilac)]},
  options: panelOptions({
    yMin: 0, yMax: 100, yTicks: [0, 20, 40, 60, 80, 100], yTickLabels: ['0', '20', '40', '60', '80', '100'],
    yTitle: 'Optical Depth', yTitleX: 217
  }),
  plugins: [axisFrame, markLegend([
    {label: 'D98 OD', color: dOrange},
    {label: 'Z-LWP Nd', color: zBlue}
  ], {rows: [165, 222], markX: 2566, textX: 2708})]
});
</script>
</body>
</html>
